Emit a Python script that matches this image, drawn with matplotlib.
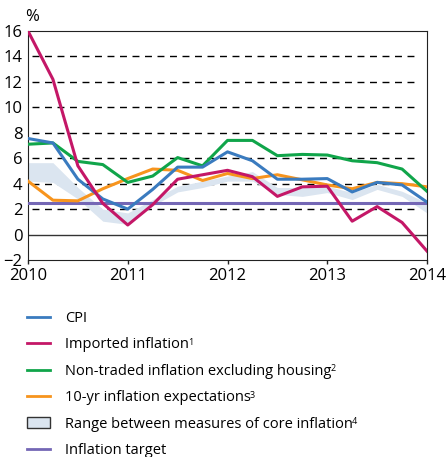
import numpy as np
import matplotlib.pyplot as plt
from matplotlib.patches import Patch
from matplotlib.lines import Line2D

plt.rcParams['font.family'] = ['Open Sans', 'DejaVu Sans']

# quarterly, 2010 to 2014
quarters = [2010 + i * 0.25 for i in range(17)]
cpi = [7.55, 7.2, 4.35, 2.8, 2.0, 3.55, 5.3, 5.3, 6.5, 5.8, 4.35, 4.35, 4.4, 3.35, 4.1, 3.9, 2.55]
imported = [16.0, 12.2, 5.4, 2.45, 0.75, 2.35, 4.35, 4.7, 5.05, 4.55, 3.0, 3.75, 3.8, 1.05, 2.2, 0.95, -1.3]
non_traded = [7.1, 7.2, 5.75, 5.5, 4.1, 4.6, 6.05, 5.4, 7.4, 7.4, 6.2, 6.3, 6.25, 5.8, 5.65, 5.15, 3.4]
expectations = [4.2, 2.7, 2.65, 3.6, 4.4, 5.15, 5.05, 4.25, 4.8, 4.4, 4.7, 4.3, 3.9, 3.6, 4.1, 4.0, 3.75]
core_upper = [5.65, 5.65, 3.7, 2.0, 1.7, 2.75, 3.8, 4.2, 4.6, 4.95, 3.7, 3.7, 3.8, 3.3, 3.95, 3.4, 2.5]
core_lower = [4.2, 4.1, 2.8, 1.05, 0.8, 2.25, 3.35, 3.7, 4.2, 4.2, 3.15, 3.0, 3.3, 2.75, 3.55, 3.0, 1.7]
target = 2.5
years = [2010, 2011, 2012, 2013, 2014]

labels = ['CPI', 'Imported inflation', 'Non-traded inflation excluding housing',
          '10-yr inflation expectations', 'Range between measures of core inflation',
          'Inflation target']
notes = ['', '1', '2', '3', '4', '']

fig = plt.figure(figsize=(4.46, 4.57), dpi=100)
ax = fig.add_axes([28 / 446, 1 - 260 / 457, 399 / 446, 229 / 457])

ax.fill_between(quarters, core_lower, core_upper, color='#dbe5f0', lw=0, zorder=1)
for yv in range(2, 16, 2):
    ax.axhline(yv, xmin=0.01, xmax=0.97, color='black', lw=1, ls=(0, (5, 4)), zorder=0)
ax.axhline(0, color='#333333', lw=1, zorder=0)
ax.axhline(target, color='#7467b5', lw=2.2, zorder=3)
ax.plot(quarters, expectations, color='#f7941d', lw=2.2, zorder=4)
ax.plot(quarters, non_traded, color='#10a54a', lw=2.2, zorder=4)
ax.plot(quarters, cpi, color='#3a7bbf', lw=2.2, zorder=5)
ax.plot(quarters, imported, color='#c41767', lw=2.2, zorder=6)

ax.set_xlim(2010, 2014)
ax.set_ylim(-2, 16)
ax.set_yticks(range(-2, 17, 2))
ax.set_xticks(years)
ax.set_xticklabels([str(y) for y in years])
ax.tick_params(labelsize=12, width=1, color='#222222')
ax.tick_params(axis='y', length=0, pad=4)
ax.tick_params(axis='x', length=3, pad=2.5)
for s in ax.spines.values():
    s.set_color('#222222')
fig.text(32 / 446, 1 - 17 / 457, '%', fontsize=12, ha='center', va='center')

handles = [
    Line2D([], [], color='#3a7bbf', lw=2),
    Line2D([], [], color='#c41767', lw=2),
    Line2D([], [], color='#10a54a', lw=2),
    Line2D([], [], color='#f7941d', lw=2),
    Patch(facecolor='#dbe5f0', edgecolor='#333333', lw=1),
    Line2D([], [], color='#7467b5', lw=2),
]
leg = fig.legend(handles, labels, loc='upper left', bbox_to_anchor=(27 / 446, 1 - 311 / 457),
                 frameon=False, fontsize=10.5, handlelength=1.6, handletextpad=1.0,
                 labelspacing=0.78, borderaxespad=0, borderpad=0)

# small footnote markers after the legend texts
fig.canvas.draw()
inv = fig.transFigure.inverted()
for t, n in zip(leg.get_texts(), notes):
    if n:
        bb = t.get_window_extent()
        x0, y0 = inv.transform((bb.x1 - 1, bb.y1 - 0.5))
        fig.text(x0, y0, n, fontsize=6.5, ha='left', va='top')

fig.savefig('out.png', dpi=100)
